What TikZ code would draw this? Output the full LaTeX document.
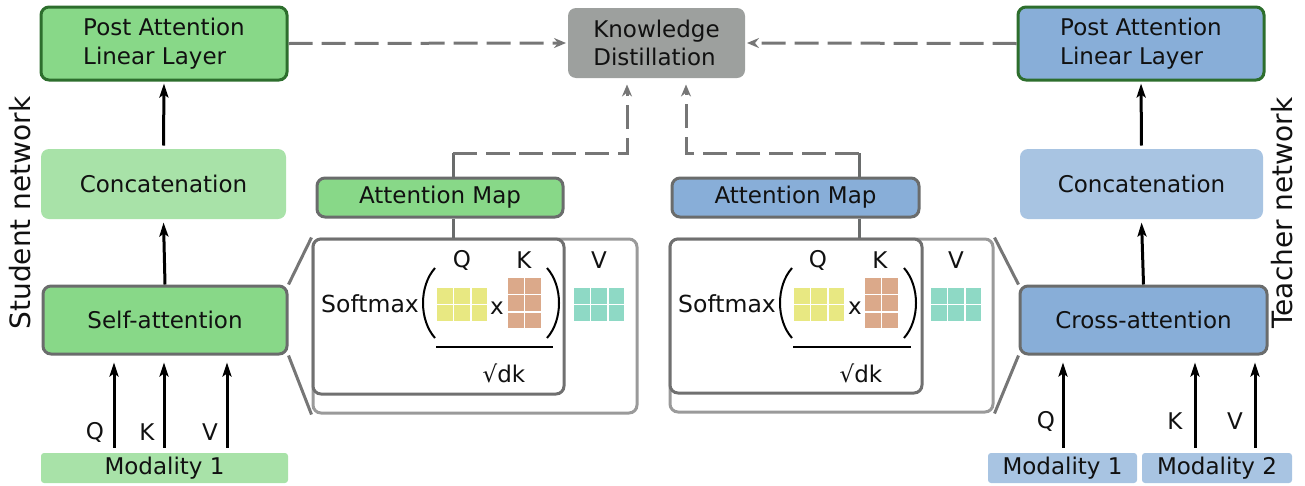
\documentclass[tikz,border=0pt]{standalone}
\usepackage{fontspec}
\setmainfont{DejaVu Sans}
\usetikzlibrary{arrows.meta,calc}
\definecolor{gfill}{HTML}{88D888}
\definecolor{glight}{HTML}{A8E2A8}
\definecolor{gborder}{HTML}{2D6E2D}
\definecolor{bfill}{HTML}{88AED8}
\definecolor{blight}{HTML}{A8C4E2}
\definecolor{kdgray}{HTML}{9DA09E}
\definecolor{bordgray}{HTML}{6A6C6C}
\definecolor{dashgray}{HTML}{767676}
\definecolor{frontgray}{HTML}{707070}
\definecolor{backgray}{HTML}{9A9A9A}
\definecolor{qyel}{HTML}{E8E882}
\definecolor{ksal}{HTML}{DBA98A}
\definecolor{vteal}{HTML}{8ED9C5}
\definecolor{txt}{HTML}{111111}
\newcommand\cellmat[5]{% x0, y0, cols, rows, colour
  \foreach \ci in {1,...,#3}{\foreach \cj in {1,...,#4}{
    \fill[#5] ({#1+(\ci-1)*17.4+0.8},{#2+(\cj-1)*17.4+0.8}) rectangle ++(15.8,15.8);}}}
\begin{document}
\begin{tikzpicture}[x=1pt,y=-1pt,
  every node/.style={font=\fontsize{23}{28.5}\selectfont, text=txt, inner sep=0pt},
  basebox/.style={rounded corners=8pt, line width=3pt, align=left},
  postg/.style={basebox, fill=gfill, draw=gborder, minimum width=246pt, minimum height=73pt},
  postb/.style={basebox, fill=bfill, draw=gborder, minimum width=246pt, minimum height=73pt},
  concg/.style={basebox, fill=glight, minimum width=245pt, minimum height=70pt},
  concb/.style={basebox, fill=blight, minimum width=243pt, minimum height=70pt},
  attg/.style={basebox, fill=gfill, draw=bordgray, minimum width=244pt, minimum height=68pt},
  attb/.style={basebox, fill=bfill, draw=bordgray, minimum width=247pt, minimum height=68pt},
  amg/.style={basebox, fill=gfill, draw=bordgray, minimum width=246pt, minimum height=39pt},
  amb/.style={basebox, fill=bfill, draw=bordgray, minimum width=247pt, minimum height=39pt},
  modg/.style={rounded corners=3pt, fill=glight, minimum height=30pt},
  modb/.style={rounded corners=3pt, fill=blight, minimum height=30pt},
  kdbox/.style={basebox, fill=kdgray, minimum width=177pt, minimum height=70pt},
  backbox/.style={rounded corners=8pt, line width=3pt, draw=backgray, fill=white},
  frontbox/.style={rounded corners=8pt, line width=3pt, draw=frontgray, fill=white},
  zoomline/.style={line width=3pt, draw=dashgray},
  linkline/.style={line width=3pt, draw=bordgray},
  dasharr/.style={line width=3pt, draw=dashgray, dash pattern=on 24pt off 9pt,
     -{Stealth[length=12pt,width=10pt,inset=4pt]}},
  arr/.style={line width=3pt, draw=black, -{Stealth[length=14pt,width=9pt,inset=3pt]}},
  paren/.style={line width=2pt, draw=black},
  netlabel/.style={rotate=90, font=\fontsize{28}{32}\selectfont}
]
\useasboundingbox (0,0) rectangle (1305,485);

% ---------- student column ----------
\node[postg] (sPost) at (164,43.5) {Post Attention\\Linear Layer};
\node[concg] (sConcat) at (163.5,184) {Concatenation};
\node[attg] (sSelf) at (165,320) {Self-attention};
\node[modg, minimum width=247pt] (sMod) at (164.5,468) {Modality 1};
\node[netlabel] (sNet) at (20,213) {Student network};

% ---------- teacher column ----------
\node[postb] (tPost) at (1141,43.5) {Post Attention\\Linear Layer};
\node[concb] (tConcat) at (1141.5,184) {Concatenation};
\node[attb] (tCross) at (1143.5,320) {Cross-attention};
\node[modb, minimum width=149pt] (tMod1) at (1062.5,468) {Modality 1};
\node[modb, minimum width=150pt] (tMod2) at (1217,468) {Modality 2};
\node[netlabel] (tNet) at (1282,213) {Teacher network};

% ---------- knowledge distillation ----------
\node[kdbox] (KD) at (656.5,43) {Knowledge\\Distillation};

% ---------- attention maps ----------
\node[amg] (sAM) at (440,197.5) {Attention Map};
\node[amb] (tAM) at (795.5,197.5) {Attention Map};

% ---------- zoomed boxes ----------
\node[backbox, minimum width=324pt, minimum height=174pt] (sBack) at (475,326) {};
\node[frontbox, minimum width=251pt, minimum height=155pt] (sFront) at (438.5,316.5) {};
\node[backbox, minimum width=323pt, minimum height=173pt] (tBack) at (831.5,325.5) {};
\node[frontbox, minimum width=252pt, minimum height=154pt] (tFront) at (796,316) {};

\draw[zoomline] (sSelf.north east) -- (sBack.north west);
\draw[zoomline] (sSelf.south east) -- (sBack.south west);
\draw[zoomline] (tBack.north east) -- (tCross.north west);
\draw[zoomline] (tBack.south east) -- (tCross.south west);

% student formula
\node[anchor=base east, font=\fontsize{23.5}{28}\selectfont] (sSoft) at (419,312) {Softmax};
\draw[paren] (435,268) .. controls (419,286) and (419,320) .. (435,338);
\draw[paren] (547,268) .. controls (563,286) and (563,320) .. (547,338);
\cellmat{436}{287}{3}{2}{qyel}
\cellmat{507}{277}{2}{3}{ksal}
\cellmat{573}{287}{3}{2}{vteal}
\node (sX) at (497,308) {x};
\node (sQl) at (462,260) {Q};
\node (sKl) at (524,260) {K};
\node (sVl) at (599,260) {V};
\draw[line width=2pt] (436,347) -- (553,347);
\node (sDk) at (504,373) {√dk};

% teacher formula
\node[anchor=base east, font=\fontsize{23.5}{28}\selectfont] (tSoft) at (776,312) {Softmax};
\draw[paren] (792,268) .. controls (776,286) and (776,320) .. (792,338);
\draw[paren] (904,268) .. controls (920,286) and (920,320) .. (904,338);
\cellmat{793}{287}{3}{2}{qyel}
\cellmat{864}{277}{2}{3}{ksal}
\cellmat{930}{287}{3}{2}{vteal}
\node (tX) at (855,308) {x};
\node (tQl) at (818,260) {Q};
\node (tKl) at (880,260) {K};
\node (tVl) at (956,260) {V};
\draw[line width=2pt] (793,347) -- (911,347);
\node (tDk) at (861,373) {√dk};

% ---------- links from attention maps ----------
\coordinate (sLink) at (453,153);
\coordinate (sUp) at (627,153);
\coordinate (tLink) at (859,153);
\coordinate (tUp) at (686,153);
\draw[linkline] (sLink) -- (sLink |- sAM.north);
\draw[linkline] (sLink |- sAM.south) -- (sLink |- sFront.north);
\draw[linkline] (tLink) -- (tLink |- tAM.north);
\draw[linkline] (tLink |- tAM.south) -- (tLink |- tFront.north);
\draw[dasharr, shorten >=5pt] (sLink) -- (sUp) -- (sUp |- KD.south);
\draw[dasharr, shorten >=5pt] (tLink) -- (tUp) -- (tUp |- KD.south);

% ---------- dashed arrows to KD ----------
\draw[dasharr, shorten >=0.5pt] (sPost.east) -- (KD.west);
\draw[dasharr, shorten >=0.5pt] (tPost.west) -- (KD.east);

% ---------- black arrows ----------
\draw[arr, shorten >=2pt, shorten <=2pt] (sConcat.north) -- (sPost.south);
\draw[arr, shorten >=2pt] (sSelf.north) -- (sConcat.south);
\draw[arr, shorten >=2pt, shorten <=2pt] (tConcat.north) -- (tPost.south);
\draw[arr, shorten >=2pt] (tCross.north) -- (tConcat.south);

\coordinate (sQx) at (114,448);
\coordinate (sKx) at (164,448);
\coordinate (sVx) at (227,448);
\coordinate (tQx) at (1063,448);
\coordinate (tKx) at (1195,448);
\coordinate (tVx) at (1255,448);
\draw[arr, shorten <=5pt, shorten >=7pt] (sQx |- sMod.north) -- (sQx |- sSelf.south);
\draw[arr, shorten <=5pt, shorten >=7pt] (sKx |- sMod.north) -- (sKx |- sSelf.south);
\draw[arr, shorten <=5pt, shorten >=7pt] (sVx |- sMod.north) -- (sVx |- sSelf.south);
\draw[arr, shorten <=5pt, shorten >=7pt] (tQx |- tMod1.north) -- (tQx |- tCross.south);
\draw[arr, shorten <=5pt, shorten >=7pt] (tKx |- tMod2.north) -- (tKx |- tCross.south);
\draw[arr, shorten <=5pt, shorten >=7pt] (tVx |- tMod2.north) -- (tVx |- tCross.south);

\node (sQt) at (95,432) {Q};
\node (sKt) at (147,432) {K};
\node (sVt) at (210,432) {V};
\node (tQt) at (1046,421) {Q};
\node (tKt) at (1175,421) {K};
\node (tVt) at (1235,421) {V};
\end{tikzpicture}
\end{document}
